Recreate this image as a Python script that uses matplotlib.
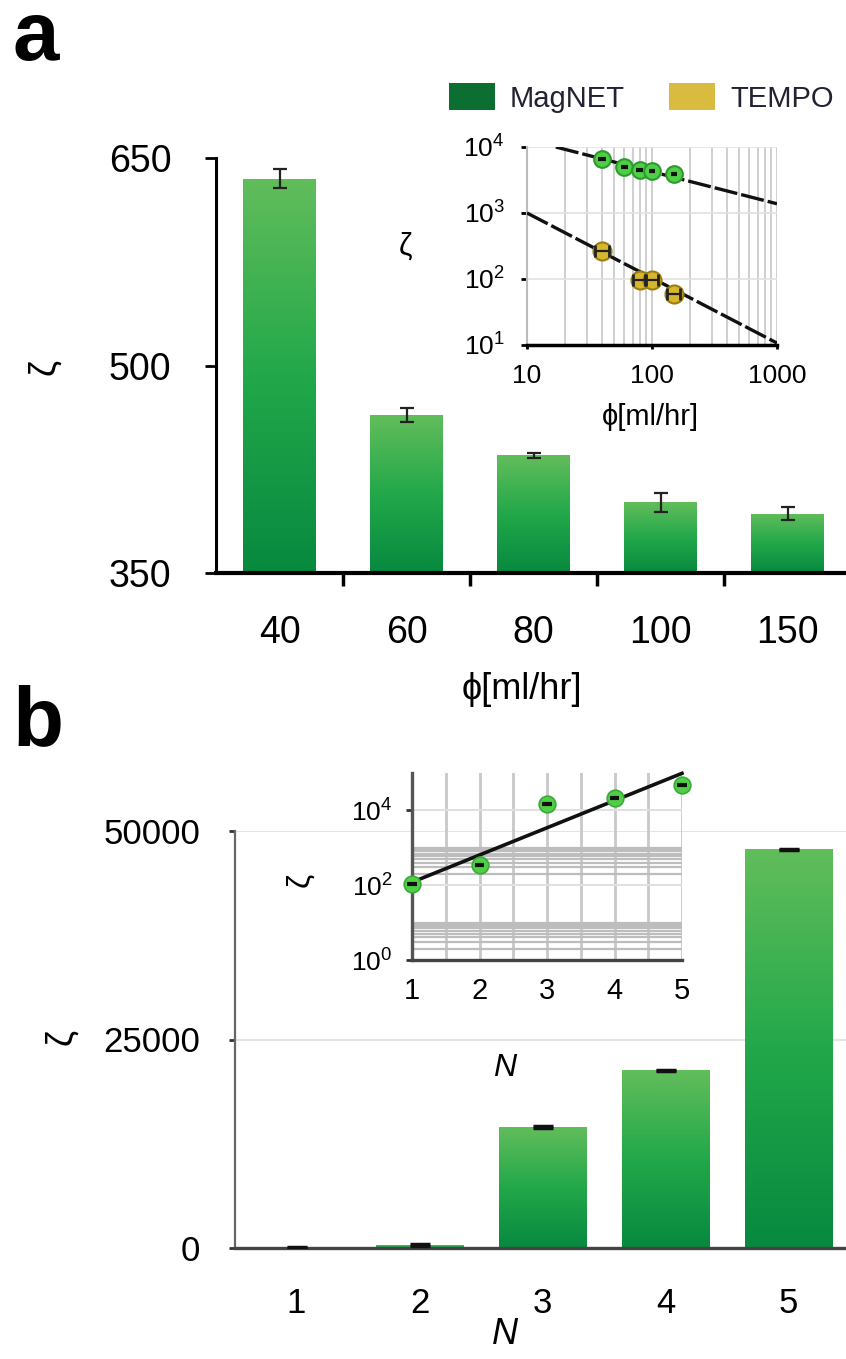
import numpy as np
import matplotlib
matplotlib.use("Agg")
from matplotlib import pyplot as plt
from matplotlib.colors import LinearSegmentedColormap
from matplotlib.patches import Patch
from matplotlib.ticker import FixedLocator, LogFormatterSciNotation, NullFormatter

plt.rcParams['font.family'] = ['Liberation Sans', 'DejaVu Sans']
plt.rcParams['mathtext.fontset'] = 'custom'
plt.rcParams['mathtext.rm'] = 'Liberation Sans'
plt.rcParams['mathtext.it'] = 'Liberation Sans:italic'

# panel a: zeta vs flow rate
flow_labels = ['40', '60', '80', '100', '150']
zeta_a = [635, 464, 435, 401, 393]
zeta_a_err = [7, 5, 2, 7, 5]

# panel a inset (log-log)
mag_flow = [40, 60, 80, 100, 150]
mag_zeta = [6500, 4900, 4450, 4300, 3950]
mag_xerr = [3, 4, 5, 6, 9]
tempo_flow = [40, 80, 100, 150]
tempo_zeta = [270, 97, 97, 59]
tempo_xerr = [5, 10, 12, 19]
mag_fit_x = [17, 1000]
mag_fit_y = [10000, 1380]
tempo_fit_x = [10, 1000]
tempo_fit_y = [1000, 10.7]

# panel b: zeta vs N
n_labels = ['1', '2', '3', '4', '5']
n_vals = [1, 2, 3, 4, 5]
zeta_b = [110, 350, 14500, 21300, 47800]
zeta_b_err = [60, 80, 100, 100, 100]
n_fit_x = [1, 5]
n_fit_y = [120, 98000]

W, H = 846, 1359
fig = plt.figure(figsize=(W / 100, H / 100), dpi=100)


def box(l, t, r, b):
    return [l / W, 1 - b / H, (r - l) / W, (b - t) / H]


bar_cmap = LinearSegmentedColormap.from_list('g', ['#07893f', '#22a84a', '#62bd5b'])
grad = np.linspace(0, 1, 256).reshape(-1, 1)


def gradient_bars(ax, bars, ybottom):
    for b in bars:
        x0, w = b.get_x(), b.get_width()
        y1 = b.get_y() + b.get_height()
        lo = max(b.get_y(), ybottom)
        im = ax.imshow(grad, extent=[x0, x0 + w, lo, y1], origin='lower',
                       cmap=bar_cmap, aspect='auto', zorder=2)
        im.set_clip_path(b)
        b.set_facecolor('none')
        b.set_edgecolor('none')


# ---------------- panel a ----------------
ax = fig.add_axes(box(216, 158, 851, 573))
xa = np.arange(len(zeta_a))
bars = ax.bar(xa, zeta_a, width=0.57, zorder=2)
gradient_bars(ax, bars, 350)
ax.errorbar(xa, zeta_a, yerr=zeta_a_err, fmt='none', ecolor='#222222',
            elinewidth=1.6, capsize=5, capthick=1.6, zorder=3)
ax.set_xlim(-0.5, 4.5)
ax.set_ylim(350, 650)
ax.set_yticks([350, 500, 650])
ax.set_xticks(xa)
ax.set_xticklabels(flow_labels)
ax.set_xticks([0.5, 1.5, 2.5, 3.5], minor=True)
for s in ['top', 'right']:
    ax.spines[s].set_visible(False)
ax.spines['left'].set_linewidth(2.2)
ax.spines['bottom'].set_linewidth(3)
ax.tick_params(axis='y', length=8, width=2, labelsize=27, pad=24)
ax.tick_params(axis='x', which='major', length=0, labelsize=27, pad=30)
ax.tick_params(axis='x', which='minor', length=9, width=2.5, direction='out')
ax.set_xlabel('ϕ[ml/hr]', fontsize=26)
ax.xaxis.label.set_va('center')
ax.xaxis.set_label_coords((522 - 216) / 635, (573 - 690) / 415)
ax.set_ylabel('ζ', fontsize=26)
ax.yaxis.label.set_va('center')
ax.yaxis.set_label_coords((45 - 216) / 635, (573 - 367) / 415)

# inset a
ia = fig.add_axes(box(527, 147, 777, 345))
ia.patch.set_alpha(0)
ia.set_xscale('log')
ia.set_yscale('log')
ia.set_xlim(10, 1000)
ia.set_ylim(10, 10000)
ia.grid(True, which='both', axis='x', color='#cfcfcf', lw=1.4)
ia.grid(True, which='major', axis='y', color='#e2e2e2', lw=1.2)
ia.plot(mag_fit_x, mag_fit_y, color='#111111', lw=2.4, ls=(0, (7, 1.2)), zorder=3)
ia.plot(tempo_fit_x, tempo_fit_y, color='#111111', lw=2.4, ls=(0, (7, 1.2)), zorder=3)
ia.plot(mag_flow, mag_zeta, 'o', ms=12, mfc='#4fcf45', mec='#2e9a2e', mew=1.5, zorder=4)
ia.errorbar(mag_flow, mag_zeta, xerr=mag_xerr, fmt='none', ecolor='#111111',
            elinewidth=3, capsize=0, zorder=5)
ia.plot(tempo_flow, tempo_zeta, 'o', ms=13, mfc='#d6b62c', mec='#9c7d12', mew=1.5, zorder=4)
ia.errorbar(tempo_flow, tempo_zeta, xerr=tempo_xerr, fmt='none', ecolor='#222222',
            elinewidth=1.6, capsize=4.5, capthick=2, zorder=5)
for s in ['top', 'right']:
    ia.spines[s].set_visible(False)
ia.spines['left'].set_color('#bbbbbb')
ia.spines['left'].set_linewidth(1.5)
ia.spines['bottom'].set_linewidth(2.5)
ia.yaxis.set_major_locator(FixedLocator([10, 100, 1000, 10000]))
ia.yaxis.set_major_formatter(LogFormatterSciNotation())
ia.yaxis.set_minor_formatter(NullFormatter())
ia.xaxis.set_major_locator(FixedLocator([10, 100, 1000]))
ia.xaxis.set_major_formatter(matplotlib.ticker.FuncFormatter(lambda v, p: '%d' % v))
ia.xaxis.set_minor_formatter(NullFormatter())
ia.tick_params(axis='y', which='major', length=4, width=2, labelsize=19, pad=12)
ia.tick_params(axis='x', which='major', length=3, width=2, labelsize=19, pad=11)
ia.tick_params(which='minor', length=0)
ia.set_xlabel('ϕ[ml/hr]', fontsize=21)
ia.xaxis.label.set_va('center')
ia.xaxis.set_label_coords((650 - 527) / 250, (345 - 417) / 198)
ia.set_ylabel('ζ', fontsize=22, rotation=0)
ia.yaxis.label.set_va('center')
ia.yaxis.set_label_coords((405 - 527) / 250, (345 - 247) / 198)

fig.legend(handles=[Patch(facecolor='#0d6e32', label='MagNET'),
                    Patch(facecolor='#d9bb3f', label='TEMPO')],
           loc='center', bbox_to_anchor=(641 / W, 1 - 98 / H), ncol=2, frameon=False,
           fontsize=21, handlelength=1.6, handleheight=1.0, handletextpad=0.5,
           columnspacing=1.5, labelcolor='#222233')

fig.text(12 / W, 1 - 60 / H, 'a', fontsize=60, fontweight='bold', va='baseline')
fig.text(12 / W, 1 - 745 / H, 'b', fontsize=60, fontweight='bold', va='baseline')

# ---------------- panel b ----------------
bx = fig.add_axes(box(235, 831, 850, 1248))
xb = np.arange(len(zeta_b))
bars = bx.bar(xb, zeta_b, width=0.71, zorder=2)
gradient_bars(bx, bars, 0)
bx.errorbar(xb, zeta_b, yerr=zeta_b_err, fmt='none', ecolor='#111111',
            elinewidth=2.5, capsize=7, capthick=2.5, zorder=3)
bx.set_xlim(-0.5, 4.5)
bx.set_ylim(0, 50000)
bx.set_yticks([0, 25000, 50000])
bx.set_xticks(xb)
bx.set_xticklabels(n_labels)
bx.yaxis.grid(True, color='#e4e4e4', lw=1.5)
bx.set_axisbelow(True)
for s in ['top', 'right']:
    bx.spines[s].set_visible(False)
bx.spines['left'].set_color('#666666')
bx.spines['left'].set_linewidth(1.6)
bx.spines['bottom'].set_color('#444444')
bx.spines['bottom'].set_linewidth(2.4)
bx.tick_params(axis='y', length=4, width=2, color='#333333', labelsize=25, pad=21)
bx.tick_params(axis='x', length=0, labelsize=25, pad=28)
bx.set_xlabel('N', fontsize=26, style='italic')
bx.xaxis.label.set_va('center')
bx.xaxis.set_label_coords((505 - 235) / 615, (1248 - 1335) / 417)
bx.set_ylabel('ζ', fontsize=26)
bx.yaxis.label.set_va('center')
bx.yaxis.set_label_coords((62 - 235) / 615, (1248 - 1037) / 417)

# inset b
ib = fig.add_axes(box(412, 773, 682, 960))
ib.patch.set_alpha(0)
ib.set_yscale('log')
ib.set_xlim(1, 5)
ib.set_ylim(1, 100000)
ib.set_xticks(n_vals)
ib.set_xticks(np.arange(1.5, 5, 1.0), minor=True)
ib.yaxis.set_major_locator(FixedLocator([1, 100, 10000]))
ib.yaxis.set_major_formatter(LogFormatterSciNotation())
ib.yaxis.set_minor_locator(FixedLocator([k * d for d in (1, 100) for k in range(2, 11)]))
ib.yaxis.set_minor_formatter(NullFormatter())
ib.grid(True, which='both', axis='x', color='#c8c8c8', lw=2)
ib.grid(True, which='minor', axis='y', color='#bdbdbd', lw=1.6)
ib.grid(True, which='major', axis='y', color='#e0e0e0', lw=1.4)
ib.plot(n_fit_x, n_fit_y, color='#111111', lw=2.6, zorder=3, clip_on=False)
ib.plot(n_vals, zeta_b, 'o', ms=12, mfc='#4fcf45', mec='#3caa3a', mew=1.2,
        zorder=4, clip_on=False)
ib.errorbar(n_vals, zeta_b, xerr=0.07, fmt='none', ecolor='#111111', elinewidth=3,
            capsize=0, zorder=5, clip_on=False)
for s in ['top', 'right']:
    ib.spines[s].set_visible(False)
ib.spines['left'].set_color('#555555')
ib.spines['left'].set_linewidth(2.4)
ib.spines['bottom'].set_color('#444444')
ib.spines['bottom'].set_linewidth(2.4)
ib.tick_params(axis='y', which='major', length=4, width=2, color='#333333', labelsize=19, pad=10)
ib.tick_params(axis='x', which='major', length=0, labelsize=21, pad=12)
ib.tick_params(which='minor', length=0)
ib.set_xlabel('N', fontsize=23, style='italic')
ib.xaxis.label.set_va('center')
ib.xaxis.set_label_coords((505 - 412) / 270, (960 - 1068) / 187)
ib.set_ylabel('ζ', fontsize=23)
ib.yaxis.label.set_va('center')
ib.yaxis.set_label_coords((300 - 412) / 270, (960 - 880) / 187)

fig.savefig('out.png', dpi=100)
